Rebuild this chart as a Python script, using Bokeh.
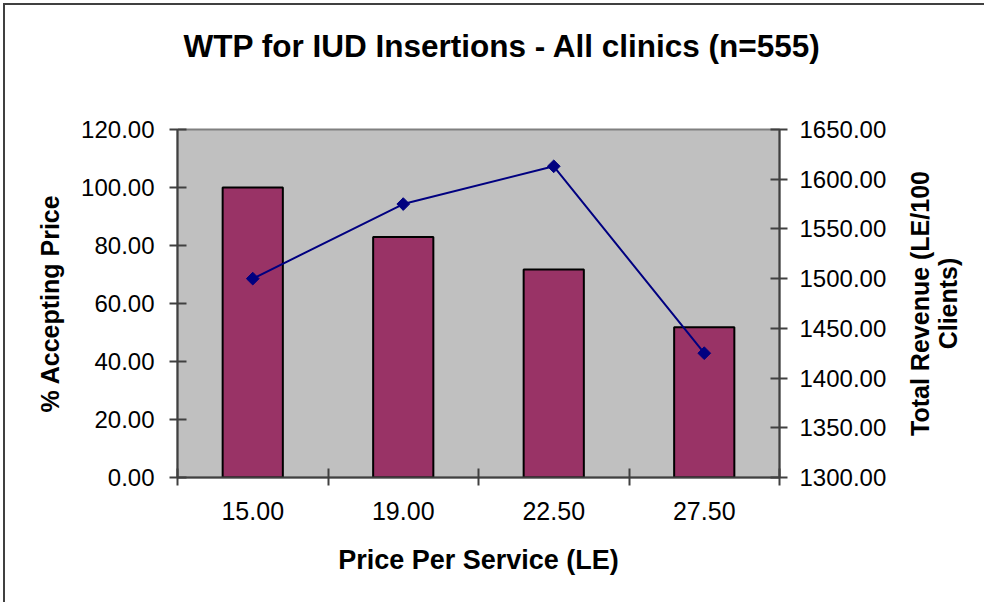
from bokeh.plotting import figure
from bokeh.layouts import row
from bokeh.models import (Range1d, LinearAxis, FixedTicker, SingleIntervalTicker,
                          NumeralTickFormatter, Title)
from bokeh.embed import file_html
from bokeh.resources import INLINE

# ---- data ----
prices = ["15.00", "19.00", "22.50", "27.50"]
pct_accepting = [100.0, 82.9, 71.7, 51.8]
total_revenue = [1500.0, 1575.0, 1613.0, 1425.0]

title_text = "WTP for IUD Insertions - All clinics (n=555)"
x_label = "Price Per Service (LE)"
y_left_label = "% Accepting Price"
y_right_label = "Total Revenue (LE/100\nClients)"

FONT = "Liberation Sans"

xs = [i + 0.5 for i in range(len(prices))]
bounds = list(range(len(prices) + 1))

H = 597
p = figure(width=890, height=H, output_backend="svg", toolbar_location=None,
           title=None, x_range=Range1d(0, len(prices)), y_range=Range1d(0, 120))
p.min_border_left = 172
p.min_border_top = 124
p.min_border_right = 116
p.min_border_bottom = 125
p.background_fill_color = "#C0C0C0"
p.border_fill_color = "white"
p.outline_line_color = "#808080"
p.outline_line_width = 2
p.xgrid.visible = False
p.ygrid.visible = False

p.extra_y_ranges = {"rev": Range1d(1300, 1650)}

# bars
p.vbar(x=xs, top=pct_accepting, width=0.4, fill_color="#993366",
       line_color="black", line_width=2)

# revenue line
p.line(x=xs, y=total_revenue, y_range_name="rev", line_color="#000080", line_width=2)
p.scatter(x=xs, y=total_revenue, y_range_name="rev", marker="square", angle=0.785398,
          size=9, fill_color="#000080", line_color="#000080")

# x axis (below)
xa = p.below[0]
xa.ticker = FixedTicker(ticks=xs, minor_ticks=bounds)
xa.major_label_overrides = {x: lab for x, lab in zip(xs, prices)}
xa.major_tick_in = 0
xa.major_tick_out = 0
xa.minor_tick_in = 9
xa.minor_tick_out = 8
xa.minor_tick_line_color = "#404040"
xa.minor_tick_line_width = 2
xa.axis_line_color = "#404040"
xa.axis_line_width = 2
xa.major_label_text_font = FONT
xa.major_label_text_font_size = "25px"
xa.major_label_text_color = "black"
xa.major_label_standoff = 16
xa.axis_label = x_label
xa.axis_label_text_font = FONT
xa.axis_label_text_font_size = "27px"
xa.axis_label_text_font_style = "bold"
xa.axis_label_text_color = "black"
xa.axis_label_standoff = 22

# left y axis
ya = p.left[0]
ya.ticker = SingleIntervalTicker(interval=20, num_minor_ticks=0)
ya.formatter = NumeralTickFormatter(format="0.00")
ya.major_tick_in = 9
ya.major_tick_out = 8
ya.major_tick_line_color = "#404040"
ya.major_tick_line_width = 2
ya.minor_tick_line_color = None
ya.axis_line_color = "#404040"
ya.axis_line_width = 2
ya.major_label_text_font = FONT
ya.major_label_text_font_size = "24px"
ya.major_label_text_color = "black"
ya.major_label_standoff = 15
ya.axis_label = y_left_label
ya.axis_label_text_font = FONT
ya.axis_label_text_font_size = "25px"
ya.axis_label_text_font_style = "bold"
ya.axis_label_text_color = "black"
ya.axis_label_standoff = 14

# spacer above the frame (white, label-less), then the title outside it
spacer = LinearAxis(ticker=FixedTicker(ticks=[0.0]), axis_line_color=None,
                    major_tick_out=61, major_tick_in=0, major_tick_line_color="white",
                    minor_tick_line_color=None, major_label_standoff=0,
                    major_label_text_font_size="0px", major_label_text_color=None)
p.add_layout(spacer, "above")
title = Title(text=title_text, align="left", offset=6, vertical_align="bottom",
              text_font=FONT, text_font_size="31.5px", text_font_style="bold",
              text_color="black")
p.add_layout(title, "above")

# right y axis (ticks and values)
yr = LinearAxis(y_range_name="rev",
                ticker=SingleIntervalTicker(interval=50, num_minor_ticks=0),
                formatter=NumeralTickFormatter(format="0.00"))
yr.major_tick_in = 9
yr.major_tick_out = 8
yr.major_tick_line_color = "#404040"
yr.major_tick_line_width = 2
yr.minor_tick_line_color = None
yr.axis_line_color = "#404040"
yr.axis_line_width = 2
yr.major_label_text_font = FONT
yr.major_label_text_font_size = "24px"
yr.major_label_text_color = "black"
yr.major_label_standoff = 12
p.add_layout(yr, "right")

# narrow companion figure that carries the right-hand axis title (reads bottom-to-top)
q = figure(width=89, height=H, output_backend="svg", toolbar_location=None,
           x_range=Range1d(0, 1), y_range=Range1d(1300, 1650))
q.min_border_left = 80
q.min_border_right = 4
q.min_border_top = 124
q.min_border_bottom = 125
q.outline_line_color = None
q.background_fill_color = "white"
q.border_fill_color = "white"
q.xgrid.visible = False
q.ygrid.visible = False
q.xaxis.visible = False
qa = q.yaxis[0]
qa.ticker = FixedTicker(ticks=[])
qa.axis_line_color = None
qa.major_tick_out = 0
qa.major_tick_in = 0
qa.minor_tick_line_color = None
qa.major_label_standoff = 0
qa.axis_label = y_right_label
qa.axis_label_text_font = FONT
qa.axis_label_text_font_size = "25px"
qa.axis_label_text_font_style = "bold"
qa.axis_label_text_color = "black"
qa.axis_label_text_line_height = 1.0
qa.axis_label_standoff = 14

layout = row(p, q, spacing=0)
layout.styles = {"margin-left": "3px", "margin-top": "3px",
                 "border-left": "2px solid #404040", "border-top": "2px solid #404040"}

open("out.html", "w").write(file_html(layout, INLINE))
